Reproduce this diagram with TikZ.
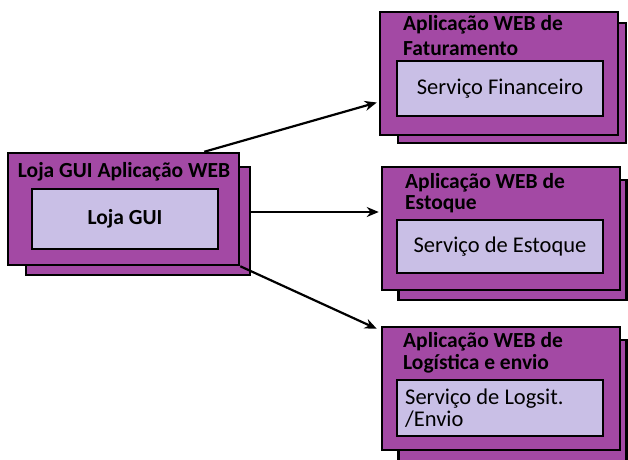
\documentclass[tikz,border=0pt]{standalone}
\usepackage{fontspec}
\setmainfont{Carlito}
\usetikzlibrary{arrows.meta}

\definecolor{apppurple}{HTML}{A349A4}
\definecolor{svclilac}{HTML}{C9BFE6}

\tikzset{
  appbox/.style={draw=black, line width=2.5pt, fill=apppurple, minimum width=238pt, minimum height=123pt, inner sep=0pt},
  backbox/.style={appbox, minimum width=228pt, minimum height=120pt},
  svcbox/.style={draw=black, line width=2.5pt, fill=svclilac, minimum width=206pt, minimum height=55pt, inner sep=0pt,
    font=\fontsize{22.5}{22}\selectfont},
  titletext/.style={inner sep=0pt, align=left, font=\bfseries\fontsize{21.5}{21}\selectfont},
  flow/.style={line width=2.2pt, -{Stealth[length=12pt,width=10pt]}}
}

\begin{document}
\begin{tikzpicture}[x=1pt, y=-1pt]
  \useasboundingbox (0,0) rectangle (628,459);

  % Loja GUI

  \node[backbox, minimum width=224pt, minimum height=108pt] (guiback) at (138,221) {};
  \node[appbox, minimum width=231pt, minimum height=112pt] (gui) at (123.5,209) {};
  \node[titletext] (guititle) at (124,172) {Loja GUI Aplicação WEB};
  \node[svcbox, minimum width=186pt, minimum height=60pt, font=\bfseries\fontsize{21.5}{22}\selectfont] (guisvc) at (125,219) {Loja GUI};

  % Faturamento

  \node[backbox] (fatback) at (512,83) {};
  \node[appbox] (fat) at (499,73.5) {};
  \node[titletext, anchor=west] (fattitle) at (403,35.5) {Aplicação WEB de\\[4pt]Faturamento};
  \node[svcbox] (finsvc) at (500,88.5) {Serviço Financeiro};

  % Estoque

  \node[backbox] (estback) at (512.5,240) {};
  \node[appbox] (est) at (501,228.5) {};
  \node[titletext, anchor=west] (esttitle) at (405,193) {Aplicação WEB de\\Estoque};
  \node[svcbox, minimum height=53pt] (estsvc) at (500,246.5) {Serviço de Estoque};

  % Logistica

  \node[backbox, minimum height=125pt] (logback) at (512.5,402.5) {};
  \node[appbox] (log) at (501,388.5) {};
  \node[titletext, anchor=west] (logtitle) at (403,353) {Aplicação WEB de\\[1pt]Logística e envio};
  \node[svcbox, minimum height=56pt] (logsvc) at (500,408) {};
  \node[inner sep=0pt, anchor=west, align=left, font=\fontsize{22.5}{22}\selectfont] (logsvctext) at (405,408) {Serviço de Logsit.\\/Envio};

  % Arrows

  \coordinate (midstart) at ([yshift=9pt]guiback.east);
  \draw[flow] ([xshift=-36pt]gui.north east) -- ([xshift=-2pt, yshift=-29pt]fat.west);
  \draw[flow] (midstart) -- ([xshift=-2pt]midstart -| est.west);
  \draw[flow] (gui.south east) -- ([xshift=-4pt, yshift=-3pt]log.north west);

\end{tikzpicture}
\end{document}
